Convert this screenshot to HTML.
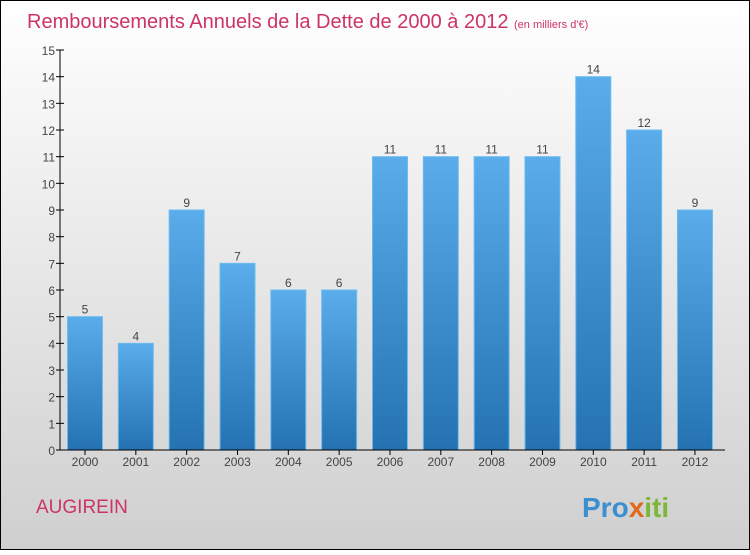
<!DOCTYPE html>
<html><head><meta charset="utf-8"><style>
body{margin:0;width:750px;height:550px;overflow:hidden;font-family:"Liberation Sans",sans-serif}
</style></head><body>
<svg width="750" height="550" id="svg">
<defs>
<linearGradient id="bg" x1="0" y1="0" x2="0" y2="1"><stop offset="0" stop-color="#ffffff"/><stop offset="1" stop-color="#cfcfcf"/></linearGradient>
<linearGradient id="bar" x1="0" y1="0" x2="0" y2="1"><stop offset="0" stop-color="#5aacea"/><stop offset="1" stop-color="#2472b2"/></linearGradient>
</defs>
<rect x="0.5" y="0.5" width="749" height="549" fill="url(#bg)" stroke="#000"/>
<text x="27" y="28" font-size="20" fill="#cc3366">Remboursements Annuels de la Dette de 2000 à 2012 <tspan font-size="11">  (en milliers d'€)</tspan></text>
<text x="36" y="513" font-size="19" fill="#cc3366">AUGIREIN</text>
<text x="582" y="517" font-size="28" font-weight="bold" fill="#3a8fd0">Pro<tspan fill="#e06a1a">x</tspan><tspan fill="#7bb838">iti</tspan></text>
<g id="plot"></g>
</svg>
<script>
const years=["2000","2001","2002","2003","2004","2005","2006","2007","2008","2009","2010","2011","2012"];
const values=[5,4,9,7,6,6,11,11,11,11,14,12,9];
const yTicks=[0,1,2,3,4,5,6,7,8,9,10,11,12,13,14,15];
const NS="http://www.w3.org/2000/svg";
const g=document.getElementById('plot');
const y=v=>450-v*(400/15);
const x=i=>85+i*50.83;
function mk(t,a){const e=document.createElementNS(NS,t);for(const k in a)e.setAttribute(k,a[k]);g.appendChild(e);return e;}
yTicks.forEach(v=>{
 const t=mk('line',{x1:56,x2:64,y1:y(v),y2:y(v),stroke:'#000'});
 
 
 const l=mk('text',{x:55,y:y(v)+5,'font-size':12,fill:'#444','text-anchor':'end'});l.textContent=v;
 
 
});
values.forEach((v,i)=>{
 const r=mk('rect',{x:x(i)-17.5,y:y(v),width:35,height:450-y(v),fill:'url(#bar)',stroke:'#6cbcf0','stroke-width':1});
 
 
 const t=mk('text',{x:x(i),y:y(v)-3,'font-size':12,fill:'#444','text-anchor':'middle'});t.textContent=v;
 
 
 const tk=mk('line',{x1:x(i),x2:x(i),y1:450,y2:455,stroke:'#000'});
 
 
 const xl=mk('text',{x:x(i),y:466,'font-size':12,fill:'#444','text-anchor':'middle'});xl.textContent=years[i];
 
 
});
const ya=mk('line',{x1:60,x2:60,y1:50,y2:450,stroke:'#000'});


const xa=mk('line',{x1:60,x2:725,y1:450,y2:450,stroke:'#000'});


</script>
</body></html>
